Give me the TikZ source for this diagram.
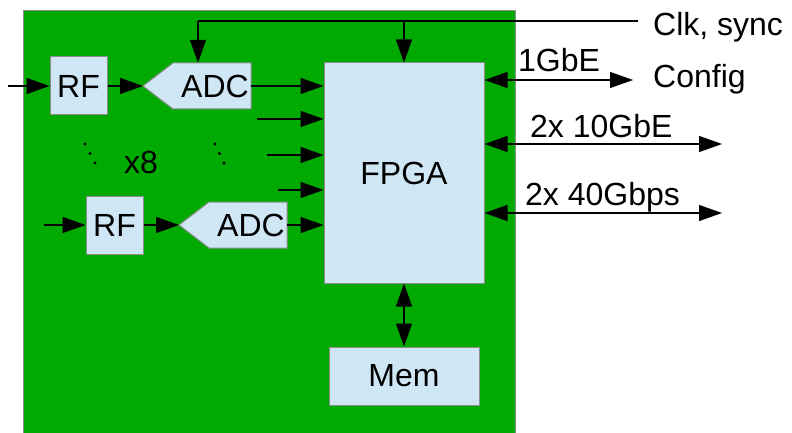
\documentclass[tikz,border=0pt]{standalone}
\usepackage{fontspec}
\setmainfont{Liberation Sans}
\usetikzlibrary{arrows.meta,calc}
\definecolor{boardgreen}{HTML}{00AA00}
\definecolor{boxblue}{HTML}{CFE7F5}
\definecolor{edgegray}{HTML}{8C8C8C}
\tikzset{
 txt/.style={font=\fontsize{32}{38}\selectfont},
 blk/.style={draw=edgegray, line width=1pt, fill=boxblue, inner sep=0pt, txt},
 adcbody/.style={draw=edgegray, line width=1pt, fill=boxblue},
 lbl/.style={inner sep=0pt, txt, anchor=base west},
 arr/.style={line width=1.2pt, -{Triangle[length=23pt,width=16pt]}},
 darr/.style={line width=1.2pt, {Triangle[length=23pt,width=16pt]}-{Triangle[length=23pt,width=16pt]}},
 ln/.style={line width=1.2pt}
}
\begin{document}
\begin{tikzpicture}[x=1pt,y=-1pt]
\useasboundingbox (0,0) rectangle (792,433);
\fill[white] (0,0) rectangle (792,433);
\draw[edgegray, line width=1pt, fill=boardgreen] (23,11) rectangle (515,440);

% blocks
\node[blk, minimum width=57pt, minimum height=58pt] (rf1) at (78.5,86) {RF};
\node[blk, minimum width=57pt, minimum height=58pt] (rf2) at (114.5,225) {RF};
\draw[adcbody] (143,86) -- (173,63) -- (251,63) -- (251,109) -- (173,109) -- cycle;
\coordinate (adc1tip) at (143,86);
\node[txt, inner sep=0pt, minimum width=72pt, minimum height=46pt] (adc1) at (215,86) {ADC};
\draw[adcbody] (179,225) -- (209,202) -- (287,202) -- (287,248) -- (209,248) -- cycle;
\coordinate (adc2tip) at (179,225);
\node[txt, inner sep=0pt, minimum width=72pt, minimum height=46pt] (adc2) at (251,225) {ADC};
\node[blk, minimum width=160pt, minimum height=220pt] (fpga) at (404,173) {FPGA};
\node[blk, minimum width=150pt, minimum height=58pt] (mem) at (404,376) {Mem};

% x8 and dots
\node[txt, inner sep=0pt, anchor=base] (x8) at (141,173) {x8};
\fill (85,144) circle (1.6) (90,153.5) circle (1.6) (95,163) circle (1.6);
\fill (215,144) circle (1.6) (219.5,153.5) circle (1.6) (224,163) circle (1.6);

% inputs
\coordinate (rfin1) at (8,86);
\coordinate (rfin2) at (44,225);
\draw[arr] (rfin1) -- (rf1.west);
\draw[arr] (rf1.east) -- (adc1tip);
\draw[arr] (adc1.east) -- (adc1.east -| fpga.west);
\draw[arr] (rfin2) -- (rf2.west);
\draw[arr] (rf2.east) -- (adc2tip);
\draw[arr] (adc2.east) -- (adc2.east -| fpga.west);
\coordinate (in2) at (257,119);
\coordinate (in3) at (267,155);
\coordinate (in4) at (278,190);
\draw[arr] (in2) -- (in2 -| fpga.west);
\draw[arr] (in3) -- (in3 -| fpga.west);
\draw[arr] (in4) -- (in4 -| fpga.west);

% clock
\coordinate (clkend) at (638,21);
\coordinate (clkadc) at (198,21);
\draw[ln] (clkend) -- (clkadc);
\draw[arr] (clkadc) -- (clkadc |- adc1.north);
\draw[arr] (fpga.north |- clkend) -- (fpga.north);

% outputs
\coordinate (e1) at (633,80);
\coordinate (e2) at (722,144);
\coordinate (e3) at (722,213);
\draw[darr] (fpga.east |- e1) -- (e1);
\draw[darr] (fpga.east |- e2) -- (e2);
\draw[darr] (fpga.east |- e3) -- (e3);
\draw[darr] (fpga.south) -- (mem.north);

% labels
\node[lbl] (clk) at (653,36) {Clk, sync};
\node[lbl] (cfg) at (653,88) {Config};
\node[lbl] (g1) at (518,72) {1GbE};
\node[lbl] (g10) at (530,137) {2x 10GbE};
\node[lbl] (g40) at (525,205) {2x 40Gbps};
\end{tikzpicture}
\end{document}
